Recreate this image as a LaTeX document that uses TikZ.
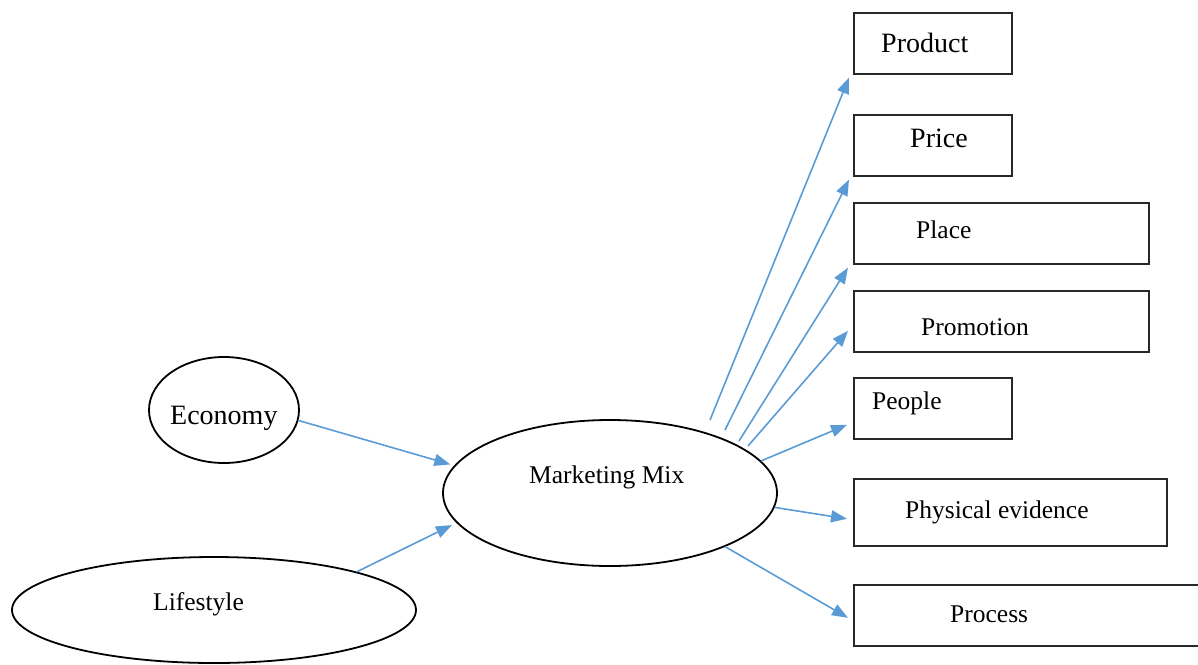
\documentclass[tikz,border=0pt]{standalone}
\usepackage{fontspec}
\setmainfont{Liberation Serif}
\usetikzlibrary{arrows.meta,calc,shapes.geometric}
\definecolor{arrowblue}{RGB}{91,155,213}
\definecolor{boxline}{RGB}{40,40,40}
\begin{document}
\begin{tikzpicture}[x=1pt,y=-1pt,
  oval/.style={ellipse,draw=black,line width=1.8pt,inner sep=0pt},
  boxnode/.style={rectangle,draw=boxline,line width=1.6pt,inner sep=0pt,anchor=north west,minimum height=61pt},
  lab/.style={font=\fontsize{25.5}{30}\selectfont,inner sep=0pt,anchor=base west},
  biglab/.style={font=\fontsize{28}{33}\selectfont,inner sep=0pt,anchor=base west},
  arr/.style={draw=arrowblue,line width=1.6pt,-{Triangle[length=16pt,width=12pt]}}]
\useasboundingbox (0,0) rectangle (1198,664);

% ellipses
\node[oval,minimum width=150pt,minimum height=106pt] (economy) at (224,410) {};
\node[oval,minimum width=404pt,minimum height=106pt] (lifestyle) at (214,610) {};
\node[oval,minimum width=334pt,minimum height=146pt] (mm) at (610,493) {};
\node[biglab] (economytext) at (170,424) {Economy};
\node[lab] (lifestyletext) at (153,610) {Lifestyle};
\node[lab] (mmtext) at (529,483) {Marketing Mix};

% boxes
\node[boxnode,minimum width=158pt] (product) at (853,12) {};
\node[boxnode,minimum width=158pt] (price) at (853,114) {};
\node[boxnode,minimum width=295pt] (place) at (853,202) {};
\node[boxnode,minimum width=295pt] (promotion) at (853,290) {};
\node[boxnode,minimum width=158pt] (people) at (853,377) {};
\node[boxnode,minimum width=313pt,minimum height=67pt] (physical) at (853,478) {};
\node[boxnode,minimum width=360pt] (process) at (853,584) {};

\node[biglab] (producttext) at (881,52) {Product};
\node[biglab] (pricetext) at (910,147) {Price};
\node[lab] (placetext) at (916,238) {Place};
\node[lab] (promotiontext) at (921,335) {Promotion};
\node[lab] (peopletext) at (872,409) {People};
\node[lab] (physicaltext) at (905,518) {Physical evidence};
\node[lab] (processtext) at (950,622) {Process};

% arrow starts
\coordinate (s1) at (710,420);
\coordinate (s2) at (725,430);
\coordinate (s3) at (739,441);
\coordinate (s4) at (748,446);

% arrows
\draw[arr,shorten >=4pt] (economy.-8) -- (mm.170);
\draw[arr,shorten >=5pt] (lifestyle.15) -- (mm.-169);
\draw[arr] (s1) -- ($(product.south west)+(-4,3)$);
\draw[arr] (s2) -- ($(price.south west)+(-4,3)$);
\draw[arr] (s3) -- ($(place.south west)+(-5,3)$);
\draw[arr] (s4) -- ($(promotion.west)+(-5,9.5)$);
\draw[arr] (mm.12) -- ($(people.west)+(-6,16.5)$);
\draw[arr] (mm.-5) -- ($(physical.west)+(-6,6.5)$);
\draw[arr] (mm.-25) -- ($(process.west)+(-5,2.5)$);
\end{tikzpicture}
\end{document}
